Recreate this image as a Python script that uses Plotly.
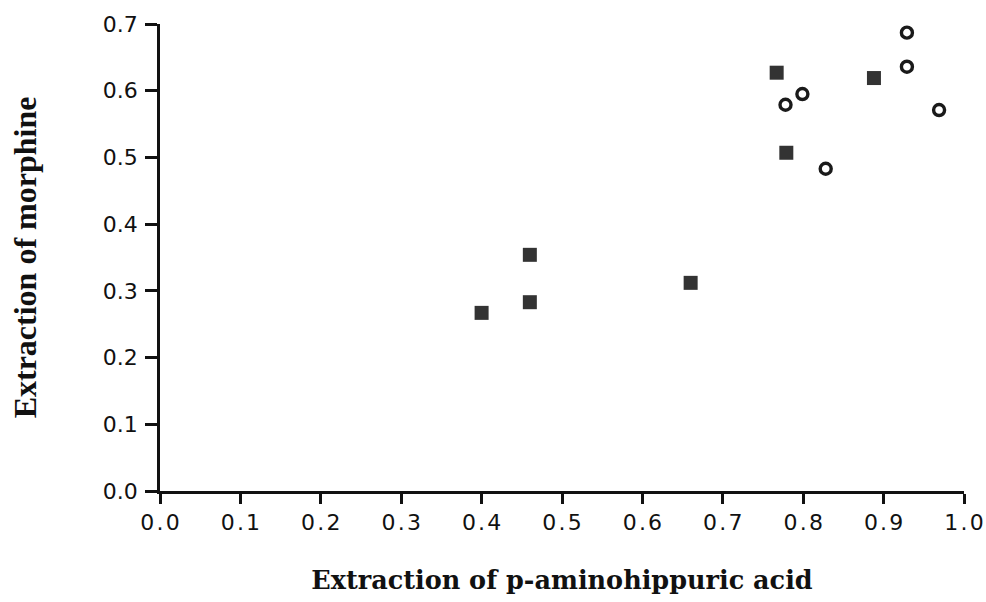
import plotly.graph_objects as go

# Data
sq_x = [0.40, 0.46, 0.46, 0.66, 0.767, 0.779, 0.888]
sq_y = [0.267, 0.283, 0.354, 0.312, 0.627, 0.507, 0.619]
ci_x = [0.929, 0.929, 0.799, 0.778, 0.969, 0.828]
ci_y = [0.687, 0.636, 0.595, 0.579, 0.571, 0.483]

x_ticks = [0.0, 0.1, 0.2, 0.3, 0.4, 0.5, 0.6, 0.7, 0.8, 0.9, 1.0]
y_ticks = [0.0, 0.1, 0.2, 0.3, 0.4, 0.5, 0.6, 0.7]

x_title = "Extraction of p-aminohippuric acid"
y_title = "Extraction of morphine"

fig = go.Figure()
fig.add_trace(go.Scatter(
    x=sq_x, y=sq_y, mode="markers",
    marker=dict(symbol="square", size=14, color="#333333", line=dict(width=0)),
    showlegend=False, cliponaxis=False,
))
fig.add_trace(go.Scatter(
    x=ci_x, y=ci_y, mode="markers",
    marker=dict(symbol="circle-open", size=11, color="#1a1a1a", line=dict(width=3.4, color="#1a1a1a")),
    showlegend=False, cliponaxis=False,
))

tick_font = dict(family="DejaVu Sans, Verdana, sans-serif", size=22, color="#111111")

fig.update_layout(
    width=986, height=602,
    margin=dict(l=160, r=22, t=24, b=111),
    paper_bgcolor="white", plot_bgcolor="white",
    xaxis=dict(
        range=[0, 1], tickvals=x_ticks,
        ticktext=["\u200a".join(f"{v:.1f}") for v in x_ticks],
        ticks="outside", ticklen=10, tickwidth=2.5, tickcolor="#111111",
        showline=True, linewidth=2.5, linecolor="#111111",
        showgrid=False, zeroline=False, tickfont=tick_font, automargin=False,
        title=dict(text=f"<b>{x_title}</b>", standoff=37,
                   font=dict(family="DejaVu Serif, serif", size=25.5, color="#111111")),
    ),
    yaxis=dict(
        range=[0, 0.7], tickvals=y_ticks,
        ticktext=[f"{v:.1f}" for v in y_ticks],
        ticks="outside", ticklen=12, tickwidth=2.5, tickcolor="#111111",
        ticklabelstandoff=3,
        showline=True, linewidth=2.5, linecolor="#111111",
        showgrid=False, zeroline=False, tickfont=tick_font, automargin=False,
        title=dict(text=f"<b>{y_title}</b>", standoff=57,
                   font=dict(family="Liberation Serif, Times New Roman, serif", size=32, color="#111111")),
    ),
)

fig.write_html("out.html")
